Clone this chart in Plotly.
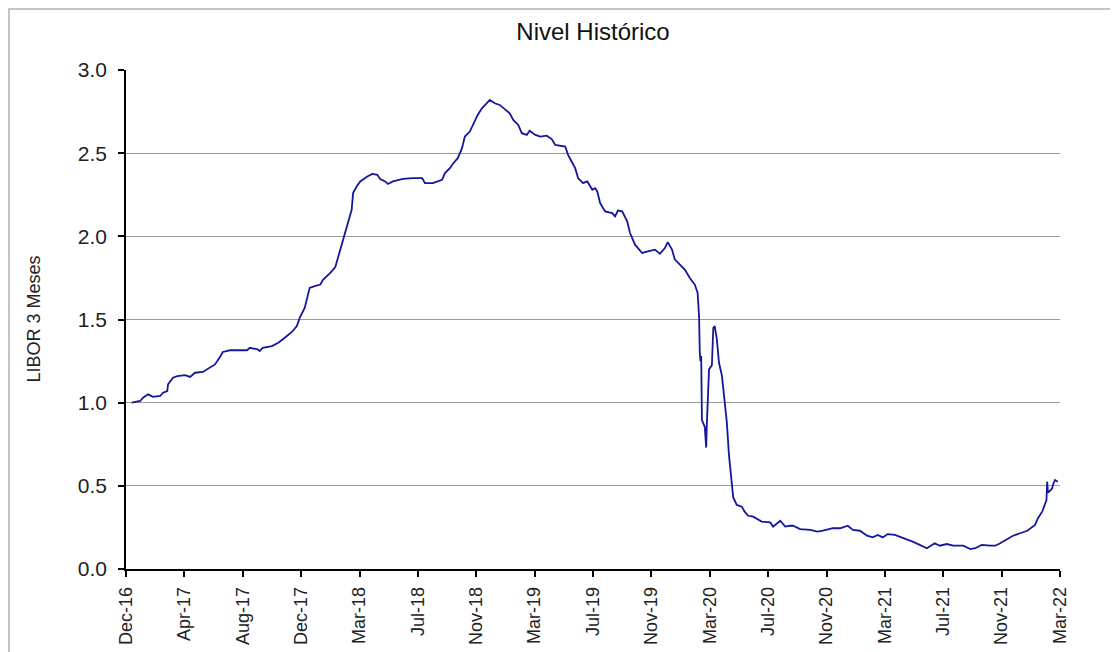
import plotly.graph_objects as go

# Observation index (trading-day count along the category axis) and LIBOR 3M values
obs = [8, 20, 24, 31, 38, 48, 52, 58, 59, 66, 72, 83, 90, 97, 108, 118, 125, 132, 136, 146,
       170, 174, 185, 188, 192, 205, 214, 223, 233, 240, 244, 251, 258, 265, 273, 277, 287, 294,
       298, 303, 308, 312, 317, 319, 324, 329, 339, 346, 353, 357, 364, 368, 375, 389, 403, 416,
       420, 431, 444, 448, 455, 459, 466, 472, 476, 483, 490, 494, 500, 507, 511, 518, 525, 532,
       539, 544, 551, 556, 563, 567, 575, 582, 591, 598, 603, 617, 621, 626, 631, 635, 642, 648,
       655, 659, 662, 666, 673, 683, 687, 691, 697, 704, 708, 715, 725, 733, 743, 750, 757, 761,
       767, 771, 778, 785, 792, 799, 803, 805, 806, 807, 808, 809, 813, 815, 816, 819, 823, 825,
       827, 830, 833, 837, 840, 844, 847, 851, 853, 858, 865, 869, 874, 881, 888, 893, 905, 909,
       919, 926, 933, 937, 947, 961, 971, 979, 993, 1003, 1014, 1021, 1031, 1041, 1049, 1056,
       1063, 1070, 1080, 1090, 1098, 1105, 1115, 1125, 1136, 1143, 1153, 1162, 1176, 1186, 1193,
       1202, 1214, 1221, 1228, 1238, 1246, 1256, 1266, 1277, 1281, 1287, 1291, 1293, 1294, 1295,
       1298, 1301, 1302, 1305, 1309]
libor = [1.00, 1.01, 1.03, 1.05, 1.035, 1.04, 1.06, 1.07, 1.11, 1.15, 1.16, 1.165, 1.155, 1.18,
         1.185, 1.21, 1.23, 1.275, 1.305, 1.315, 1.315, 1.33, 1.32, 1.31, 1.33, 1.34, 1.36, 1.39,
         1.425, 1.46, 1.51, 1.57, 1.69, 1.70, 1.71, 1.74, 1.78, 1.815, 1.875, 1.95, 2.01, 2.07,
         2.16, 2.26, 2.30, 2.33, 2.36, 2.375, 2.37, 2.345, 2.33, 2.315, 2.33, 2.345, 2.35, 2.35,
         2.32, 2.32, 2.34, 2.38, 2.41, 2.435, 2.47, 2.53, 2.60, 2.63, 2.69, 2.73, 2.77, 2.80, 2.82,
         2.80, 2.79, 2.765, 2.74, 2.70, 2.67, 2.62, 2.61, 2.635, 2.61, 2.60, 2.605, 2.585, 2.55,
         2.54, 2.49, 2.45, 2.41, 2.35, 2.32, 2.33, 2.28, 2.29, 2.27, 2.20, 2.15, 2.14, 2.12,
         2.155, 2.15, 2.09, 2.02, 1.95, 1.90, 1.91, 1.92, 1.895, 1.93, 1.965, 1.92, 1.86, 1.83,
         1.80, 1.75, 1.71, 1.66, 1.515, 1.30, 1.25, 1.28, 0.895, 0.855, 0.73, 0.88, 1.20, 1.225,
         1.45, 1.46, 1.38, 1.24, 1.165, 1.045, 0.88, 0.685, 0.52, 0.43, 0.385, 0.375, 0.345,
         0.32, 0.315, 0.295, 0.285, 0.28, 0.255, 0.29, 0.255, 0.26, 0.26, 0.24, 0.235, 0.225,
         0.23, 0.245, 0.245, 0.26, 0.235, 0.23, 0.20, 0.19, 0.205, 0.19, 0.21, 0.205, 0.19, 0.18,
         0.165, 0.145, 0.125, 0.155, 0.14, 0.15, 0.14, 0.14, 0.12, 0.125, 0.145, 0.14, 0.14,
         0.155, 0.18, 0.20, 0.215, 0.23, 0.265, 0.305, 0.345, 0.385, 0.415, 0.525, 0.46, 0.47,
         0.485, 0.505, 0.535, 0.525, 0.52]

tick_pos = [0, 82, 164, 246, 328, 410, 492, 574, 656, 738, 820, 902, 984, 1066, 1148, 1230, 1312]
tick_labels = ["Dec-16", "Apr-17", "Aug-17", "Dec-17", "Mar-18", "Jul-18", "Nov-18", "Mar-19",
               "Jul-19", "Nov-19", "Mar-20", "Jul-20", "Nov-20", "Mar-21", "Jul-21", "Nov-21",
               "Mar-22"]
y_ticks = [0.0, 0.5, 1.0, 1.5, 2.0, 2.5, 3.0]

FONT = "Liberation Sans, Arial, sans-serif"

fig = go.Figure()
fig.add_trace(go.Scatter(x=obs, y=libor, mode="lines",
                         line=dict(color="#16169a", width=1.8), showlegend=False))

# the page body adds an 8px offset, so the figure is laid out in its own coordinates
W, H = 1110, 644
L, T = 118, 62
R = W - 1052
B = H - 561
pw, ph = W - L - R, H - T - B

fig.update_layout(
    width=W, height=H, template="none",
    paper_bgcolor="white", plot_bgcolor="white",
    margin=dict(l=L, r=R, t=T, b=B, pad=0),
    title=dict(text="Nivel Histórico", x=(L + pw / 2) / W, xanchor="center",
               y=1 - 24 / H, yanchor="middle",
               font=dict(family=FONT, size=24, color="#111")),
    xaxis=dict(range=[0, 1312], tickmode="array", tickvals=tick_pos, ticktext=tick_labels,
               tickangle=-90, ticks="outside", ticklen=6, tickcolor="black", tickwidth=1.5,
               showline=True, linecolor="black", linewidth=1.5, showgrid=False,
               zeroline=False, automargin=False, ticklabelstandoff=3,
               tickfont=dict(family=FONT, size=18, color="#222")),
    yaxis=dict(range=[0, 3], tickmode="array", tickvals=y_ticks,
               ticktext=[f"{v:.1f}" for v in y_ticks],
               ticks="outside", ticklen=6, tickcolor="black", tickwidth=1.5,
               showline=True, linecolor="black", linewidth=1.5,
               showgrid=True, gridcolor="#9a9a9a", gridwidth=1.2, zeroline=False,
               automargin=False, ticklabelstandoff=7,
               tickfont=dict(family=FONT, size=21, color="#222")),
    annotations=[dict(text="LIBOR 3 Meses", xref="paper", yref="paper",
                      x=(25 - L) / pw, y=0.5, xanchor="center", yanchor="middle",
                      textangle=-90, showarrow=False,
                      font=dict(family=FONT, size=18, color="#222"))],
    shapes=[dict(type="rect", xref="paper", yref="paper",
                 x0=(1 - L) / pw, x1=(W + 20 - L) / pw,
                 y0=-(B + 20) / ph, y1=(ph + T - 1) / ph,
                 line=dict(color="#c4c4c4", width=2), fillcolor="rgba(0,0,0,0)",
                 layer="below")],
)

fig.write_html("out.html")
